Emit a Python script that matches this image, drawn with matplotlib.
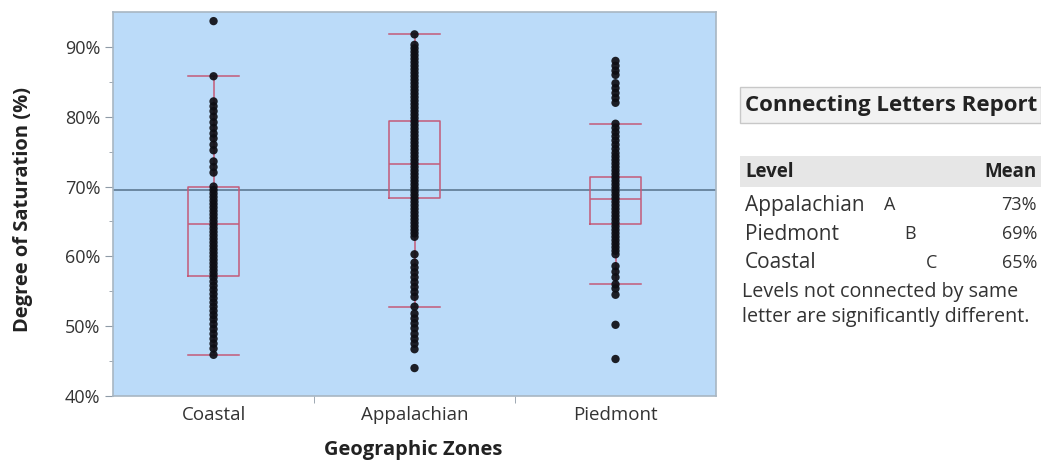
import numpy as np
import matplotlib
matplotlib.use("Agg")
import matplotlib.pyplot as plt
from matplotlib.patches import Rectangle

plt.rcParams['font.family'] = ['Open Sans', 'DejaVu Sans']

# Categories and box statistics (percent)
zones = ["Coastal", "Appalachian", "Piedmont"]
q1 = [57.2, 68.4, 64.6]
median = [64.7, 73.2, 68.2]
q3 = [70.0, 79.4, 71.4]
whisker_lo = [45.9, 52.8, 56.0]
whisker_hi = [85.8, 91.8, 79.0]
grand_mean = 69.5

# Individual observations (percent)
coastal_pts = [93.7, 85.8, 82.2, 81.5, 80.8, 80.0, 79.2, 78.4, 77.6, 76.9,
               76.0, 75.2, 73.6, 72.8, 72.0,
               70.0, 69.5, 69.0, 68.5, 68.0, 67.5, 67.0, 66.5, 66.0, 65.5,
               65.0, 64.5, 64.0, 63.5, 63.0, 62.5, 62.0, 61.5, 61.0, 60.5,
               60.0, 59.5, 59.0, 58.5, 58.0, 57.5, 57.0, 56.4, 55.8, 55.2,
               54.6, 54.0, 53.4, 52.8, 52.2, 51.6, 51.0, 50.3, 49.6, 48.9,
               48.2, 47.5, 46.8, 45.9]
appalachian_pts = [91.8, 90.3, 89.8, 89.3, 88.8, 88.3, 87.8, 87.3, 86.8, 86.3,
                   85.8, 85.3, 84.8, 84.3, 83.8, 83.3, 82.8, 82.3, 81.8, 81.3,
                   80.8, 80.3, 79.8, 79.3, 78.8, 78.3, 77.8, 77.3, 76.8, 76.3,
                   75.8, 75.3, 74.8, 74.3, 73.8, 73.3, 72.8, 72.3, 71.8, 71.3,
                   70.8, 70.3, 69.8, 69.3, 68.8, 68.3, 67.8, 67.3, 66.8, 66.3,
                   65.8, 65.3, 64.8, 64.3, 63.8, 63.3, 62.8,
                   60.3, 59.1, 58.4, 57.7, 57.0, 56.3, 55.6, 54.9, 54.2, 52.8,
                   51.8, 51.1, 50.4, 49.7, 48.9, 48.2, 47.5, 46.7, 44.0]
piedmont_pts = [88.0, 87.3, 86.6, 86.0, 84.8, 84.1, 83.4, 82.7, 82.0,
                79.0, 78.4, 77.8, 77.2, 76.6, 76.0, 75.4, 74.8, 74.3, 73.8,
                73.3, 72.8, 72.3, 71.8, 71.3, 70.8, 70.3, 69.8, 69.3, 68.8,
                68.3, 67.8, 67.3, 66.8, 66.3, 65.8, 65.3, 64.8, 64.3, 63.8,
                63.3, 62.8, 62.3, 61.8, 61.3, 60.8, 60.3,
                58.6, 57.8, 57.0, 56.0, 55.4, 54.5, 50.2, 45.3]
all_pts = [coastal_pts, appalachian_pts, piedmont_pts]

# Connecting letters report
report_levels = ["Appalachian", "Piedmont", "Coastal"]
report_letters = ["A", "B", "C"]
report_means = ["73%", "69%", "65%"]

box_color = "#C45A78"
grid_color = "#8E9AA6"

fig = plt.figure(figsize=(10.41, 4.63), dpi=100)
ax = fig.add_axes([0.1086, 0.1447, 0.5792, 0.8293])
ax.set_facecolor("#BBDBF9")

stats = []
for i, z in enumerate(zones):
    stats.append(dict(label=z, med=median[i], q1=q1[i], q3=q3[i],
                      whislo=whisker_lo[i], whishi=whisker_hi[i], fliers=[]))

line_kw = dict(color=box_color, linewidth=1.1)
ax.bxp(stats, positions=range(len(zones)), widths=0.25, capwidths=0.25,
       showfliers=False, boxprops=line_kw, whiskerprops=line_kw,
       capprops=line_kw, medianprops=line_kw, manage_ticks=False, zorder=2)

ax.axhline(grand_mean, color="#56718A", linewidth=1.1, zorder=1)

for i, pts in enumerate(all_pts):
    ax.scatter(np.full(len(pts), i), pts, s=36, color="#0E0E14",
               edgecolors="none", alpha=0.92, zorder=3)

ax.set_xlim(-0.5, 2.5)
ax.set_ylim(40, 95)
ax.set_yticks([40, 50, 60, 70, 80, 90])
ax.set_yticklabels([f"{v}%" for v in [40, 50, 60, 70, 80, 90]])
ax.set_yticks([45, 55, 65, 75, 85], minor=True)
ax.set_xticks(range(len(zones)))
ax.set_xticklabels(zones)
ax.set_xticks([0.5, 1.5], minor=True)

ax.tick_params(axis="y", which="major", length=6, color=grid_color,
               labelsize=13, labelcolor="#333333", pad=3)
ax.tick_params(axis="y", which="minor", length=3, color=grid_color)
ax.tick_params(axis="x", which="major", length=0, labelsize=13.5,
               labelcolor="#333333", pad=7)
ax.tick_params(axis="x", which="minor", length=5, color=grid_color)
for sp in ax.spines.values():
    sp.set_color("#A8B6C2")
    sp.set_linewidth(1.2)

ax.set_ylabel("Degree of Saturation (%)", fontsize=14.5, fontweight="bold",
              color="#222222")
ax.yaxis.set_label_coords(-0.149, 0.485)
ax.set_xlabel("Geographic Zones", fontsize=14.5, fontweight="bold",
              color="#222222")
ax.xaxis.set_label_coords(0.498, -0.14)
ax.xaxis.label.set_va("center")
ax.yaxis.label.set_va("center")

# Connecting letters report panel
W, H = 1041, 463
def fx(px):
    return px / W
def fy(py):
    return 1 - py / H

fig.patches.append(Rectangle((fx(740), fy(123)), fx(1041) - fx(740), fy(87) - fy(123),
                             transform=fig.transFigure, facecolor="#F2F2F2",
                             edgecolor="#C8C8C8", linewidth=1))
fig.text(fx(745), fy(105), "Connecting Letters Report", fontsize=16,
         fontweight="bold", color="#222222", va="center", ha="left")

fig.patches.append(Rectangle((fx(740), fy(187)), fx(1041) - fx(740), fy(156) - fy(187),
                             transform=fig.transFigure, facecolor="#E6E6E6",
                             edgecolor="none"))
fig.text(fx(745), fy(172), "Level", fontsize=13.5, fontweight="bold",
         color="#222222", va="center", ha="left")
fig.text(fx(1037), fy(172), "Mean", fontsize=13.5, fontweight="bold",
         color="#222222", va="center", ha="right")

row_y = [205, 234, 263]
letter_x = [890, 910, 932]
for i in range(len(report_levels)):
    fig.text(fx(745), fy(row_y[i]), report_levels[i], fontsize=15,
             color="#333333", va="center", ha="left")
    fig.text(fx(letter_x[i]), fy(row_y[i]), report_letters[i], fontsize=13,
             color="#333333", va="center", ha="center")
    fig.text(fx(1037), fy(row_y[i]), report_means[i], fontsize=13,
             color="#333333", va="center", ha="right")

fig.text(fx(742), fy(292), "Levels not connected by same", fontsize=14.2,
         color="#333333", va="center", ha="left")
fig.text(fx(742), fy(317), "letter are significantly different.", fontsize=14.2,
         color="#333333", va="center", ha="left")

fig.savefig("out.png", dpi=100)
